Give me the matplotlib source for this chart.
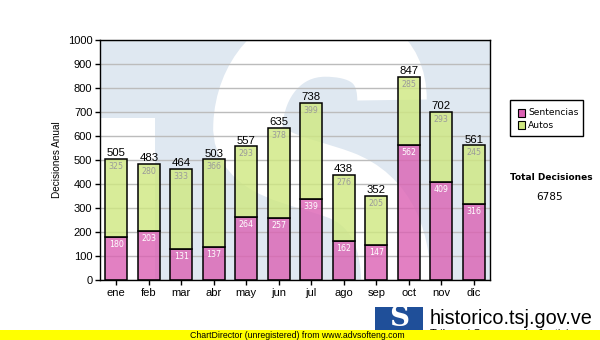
import numpy as np
import matplotlib
matplotlib.use('Agg')
from matplotlib import pyplot as plt
from matplotlib.patches import Rectangle, PathPatch
from matplotlib.path import Path

meses = ['ene', 'feb', 'mar', 'abr', 'may', 'jun', 'jul', 'ago', 'sep', 'oct', 'nov', 'dic']
sentencias = [180, 203, 131, 137, 264, 257, 339, 162, 147, 562, 409, 316]
autos = [325, 280, 333, 366, 293, 378, 399, 276, 205, 285, 293, 245]
total_decisiones = 6785

W, H = 600, 340
rosa = (0.86, 0.38, 0.70, 0.8)
verde = (0.81, 0.91, 0.50, 0.8)


def fx(x):
    return x / W


def fy(y):
    return 1 - y / H


def axpt(x, y):
    # pixel position -> axes fraction (plot area is 100..490 x 40..280)
    return ((x - 100) / 390, (280 - y) / 240)


fig = plt.figure(figsize=(6, 3.4), dpi=100)
ax = fig.add_axes([fx(100), fy(280), 390 / W, 240 / H])
ax.set_facecolor('#dfe8f1')

# faint "S" logo behind the bars
ax.add_patch(Rectangle((0, 0), 55 / 390, 162 / 240, transform=ax.transAxes,
                       facecolor='white', edgecolor='none', zorder=0.1))
verts = [(392, 100),
         (392, 55), (360, 42), (325, 42),
         (280, 42), (250, 80), (248, 125),
         (246, 165), (300, 170), (340, 185),
         (380, 200), (400, 240), (395, 300)]
codes = [Path.MOVETO] + [Path.CURVE4] * 12
ax.add_patch(PathPatch(Path([axpt(*v) for v in verts], codes), transform=ax.transAxes,
                       facecolor='none', edgecolor='white', lw=50, capstyle='butt', zorder=0.2))

x = np.arange(len(meses))
totales = np.array(sentencias) + np.array(autos)
ax.bar(x, sentencias, 0.69, facecolor=rosa, edgecolor='black', lw=1.1, zorder=2)
ax.bar(x, autos, 0.69, bottom=sentencias, facecolor=verde, edgecolor='black', lw=1.1, zorder=2)

for i in range(len(meses)):
    ax.annotate(str(sentencias[i]), (x[i], sentencias[i]), xytext=(0, -5.5), textcoords='offset points',
                ha='center', va='center', fontsize=5.7, color='white', zorder=3)
    ax.annotate(str(autos[i]), (x[i], totales[i]), xytext=(0, -5.5), textcoords='offset points',
                ha='center', va='center', fontsize=5.7, color='#9a9a9a', zorder=3)
    ax.annotate(str(totales[i]), (x[i], totales[i]), xytext=(0, 0.5), textcoords='offset points',
                ha='center', va='bottom', fontsize=8.2, family='Liberation Sans', color='black', zorder=3)

ax.set_xlim(-0.5, 11.5)
ax.set_ylim(0, 1000)
ax.set_yticks(range(0, 1001, 100))
ax.set_xticks(x)
ax.set_xticklabels(meses)
ax.yaxis.grid(True, color='#bcbcbc', lw=1)
ax.set_axisbelow(True)
for s in ax.spines.values():
    s.set_color('black')
    s.set_linewidth(1)
ax.tick_params(direction='out', length=3.5, width=1, labelsize=8, pad=2)
for lab in ax.get_xticklabels() + ax.get_yticklabels():
    lab.set_family('Liberation Sans')
ax.set_ylabel('Decisiones Anual', fontsize=7.2, family='Liberation Sans', labelpad=4)

# legend box
fig.patches.append(Rectangle((fx(510), fy(136)), 73 / W, 36 / H, transform=fig.transFigure,
                             facecolor='white', edgecolor='black', lw=1))
for yy, c, name in [(113, rosa, 'Sentencias'), (125, verde, 'Autos')]:
    fig.patches.append(Rectangle((fx(518), fy(yy + 3.5)), 7 / W, 7 / H, transform=fig.transFigure,
                                 facecolor=c[:3], edgecolor='black', lw=0.8))
    fig.text(fx(528), fy(yy), name, fontsize=6.6, va='center', ha='left')

fig.text(fx(551), fy(177), 'Total Decisiones', fontsize=6.5, fontweight='bold', ha='center', va='center')
fig.text(fx(550), fy(197), str(total_decisiones), fontsize=7.6, ha='center', va='center')

# footer: site logo and ChartDirector band
fig.text(fx(430), fy(334), 'Tribunal Supremo de Justicia', fontsize=8, family='Liberation Sans',
         ha='left', va='center', zorder=1)
fig.patches.append(Rectangle((0, 0), 1, 10 / H, transform=fig.transFigure,
                             facecolor='#ffff00', edgecolor='none', zorder=2))
fig.patches.append(Rectangle((fx(375), fy(330)), 48 / W, 23 / H, transform=fig.transFigure,
                             facecolor='#1f4f99', edgecolor='none', zorder=3))
fig.text(fx(399), fy(319), 'S', fontsize=20, fontweight='bold', family='DejaVu Serif', color='white',
         ha='center', va='center', zorder=4)
fig.text(fx(430), fy(318), 'historico.tsj.gov.ve', fontsize=14.3, family='Liberation Sans',
         ha='left', va='center', zorder=3)
fig.text(fx(190), fy(335), 'ChartDirector (unregistered) from www.advsofteng.com', fontsize=6.3,
         family='Liberation Sans', ha='left', va='center', zorder=3)

fig.savefig('out.png', dpi=100)
